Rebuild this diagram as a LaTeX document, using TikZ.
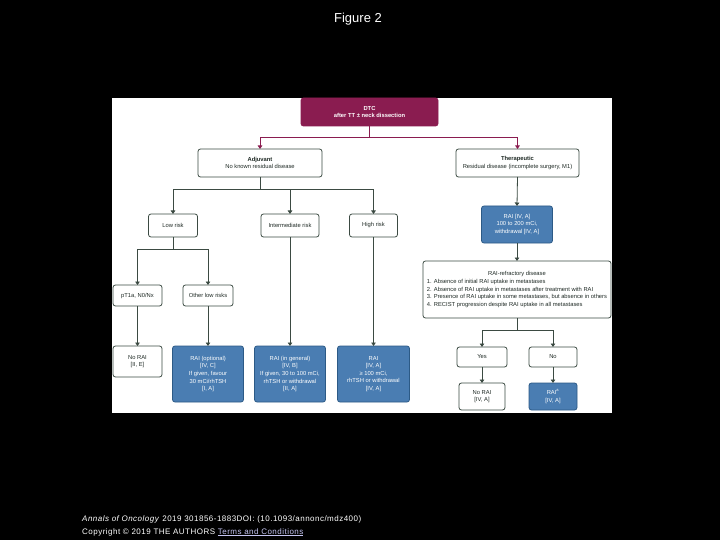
\documentclass[tikz,border=0pt]{standalone}
\usepackage{fontspec}
\setmainfont{Liberation Sans}
\newfontfamily\footf{Liberation Sans}[LetterSpace=6]
\usetikzlibrary{arrows.meta}
\definecolor{purp}{HTML}{8A1C50}
\definecolor{lineC}{HTML}{3B4A42}
\definecolor{textC}{HTML}{1F2A25}
\definecolor{blueF}{HTML}{4A7DB2}
\definecolor{blueD}{HTML}{2C5A86}
\definecolor{linkC}{HTML}{C4C4F2}
\tikzset{
  box/.style={draw=lineC, line width=0.8pt, rounded corners=2.5pt, fill=white,
    align=center, inner sep=1pt, outer sep=0pt, text=textC,
    font=\fontsize{5.8}{7.6}\selectfont},
  bbox/.style={box, fill=blueF, draw=blueD, text=white},
  pbox/.style={box, fill=purp, draw=purp, text=white},
  conn/.style={draw=lineC, line width=0.8pt, -{Triangle[length=3.5pt,width=4.5pt]}},
  plain/.style={draw=lineC, line width=0.8pt},
  pconn/.style={conn, draw=purp, color=purp},
  pplain/.style={plain, draw=purp},
  foot/.style={anchor=base west, inner sep=0pt, text=white, font=\footf\fontsize{8}{9}\selectfont},
}
\begin{document}
\begin{tikzpicture}[x=1pt,y=-1pt]
\fill[black] (0,0) rectangle (720,540);
\useasboundingbox (0,0) rectangle (720,540);
\fill[white] (112,98) rectangle (612,413);

\node[anchor=base, inner sep=0pt, text=white, font=\fontsize{13}{15}\selectfont] (title) at (358,22.5) {Figure 2};

% nodes
\node[pbox, minimum width=137pt, minimum height=28pt] (top) at (369.5,112) {\textbf{DTC}\\\textbf{after TT ± neck dissection}};
\node[box, minimum width=124pt, minimum height=28pt] (adj) at (260,163) {\textbf{Adjuvant}\\No known residual disease};
\node[box, minimum width=123pt, minimum height=28pt] (ther) at (517.5,163) {\textbf{Therapeutic}\\Residual disease (incomplete surgery, M1)};
\node[box, minimum width=49pt, minimum height=23pt] (low) at (173,225.5) {Low risk};
\node[box, minimum width=58pt, minimum height=23pt] (inter) at (290,225.5) {Intermediate risk};
\node[box, minimum width=48pt, minimum height=23pt] (high) at (373.5,225.5) {High risk};
\node[bbox, minimum width=71pt, minimum height=37pt] (raiT) at (517,224.5) {RAI [IV, A]\\100 to 200 mCi,\\withdrawal [IV, A]};
\node[box, minimum width=188pt, minimum height=57pt] (refr) at (517,289.5) {\begin{tabular}{@{}l@{}}\multicolumn{1}{c}{RAI-refractory disease}\\
1. Absence of initial RAI uptake in metastases\\
2. Absence of RAI uptake in metastases after treatment with RAI\\
3. Presence of RAI uptake in some metastases, but absence in others\\
4. RECIST progression despite RAI uptake in all metastases\end{tabular}};
\node[box, minimum width=49pt, minimum height=21pt] (pt1a) at (137.5,295.5) {pT1a, N0/Nx};
\node[box, minimum width=50pt, minimum height=21pt] (other) at (208,295.5) {Other low risks};
\node[box, minimum width=49pt, minimum height=31pt] (noraiL) at (137.5,361.5) {No RAI\\{[II, E]}};
\node[bbox, minimum width=71pt, minimum height=56pt] (raiopt) at (208,374) {RAI (optional)\\{[IV, C]}\\If given, favour\\30 mCi/rhTSH\\{[I, A]}};
\node[bbox, minimum width=71pt, minimum height=56pt] (raigen) at (290,374) {RAI (in general)\\{[IV, B]}\\If given, 30 to 100 mCi,\\rhTSH or withdrawal\\{[II, A]}};
\node[bbox, minimum width=72pt, minimum height=56pt] (raihigh) at (373.5,374) {RAI\\{[IV, A]}\\≥ 100 mCi,\\rhTSH or withdrawal\\{[IV, A]}};
\node[box, minimum width=50pt, minimum height=20pt] (yes) at (482,357) {Yes};
\node[box, minimum width=48pt, minimum height=20pt] (no) at (553,357) {No};
\node[box, minimum width=46pt, minimum height=27pt] (noraiR) at (482,396.5) {No RAI\\{[IV, A]}};
\node[bbox, minimum width=48pt, minimum height=27pt] (raia) at (553,396.5) {RAI\textsuperscript{a}\\{[IV, A]}};

% branch points
\coordinate (b0) at (369.5,137);
\coordinate (b1) at (260,189);
\coordinate (b2) at (173,249);
\coordinate (b3) at (517,330);

% connectors
\draw[pplain] (top.south) -- (b0);
\draw[pconn] (b0) -| (adj.north);
\draw[pconn] (b0) -| (ther.north);
\draw[plain] (adj.south) -- (b1);
\draw[conn] (b1) -| (low.north);
\draw[conn] (b1) -| (inter.north);
\draw[conn] (b1) -| (high.north);
\draw[plain] (low.south) -- (b2);
\draw[conn] (b2) -| (pt1a.north);
\draw[conn] (b2) -| (other.north);
\draw[conn] (pt1a.south) -- (noraiL.north);
\draw[conn] (other.south) -- (raiopt.north);
\draw[conn] (inter.south) -- (raigen.north);
\draw[conn] (high.south) -- (raihigh.north);
\draw[conn] (ther.south) -- (raiT.north);
\draw[conn] (raiT.south) -- (refr.north);
\draw[plain] (refr.south) -- (b3);
\draw[conn] (b3) -| (yes.north);
\draw[conn] (b3) -| (no.north);
\draw[conn] (yes.south) -- (noraiR.north);
\draw[conn] (no.south) -- (raia.north);

% footer
\node[foot] (foot1) at (82,521.5) {\textit{Annals of Oncology} 2019 301856-1883DOI: (10.1093/annonc/mdz400)};
\node[foot] (foot2) at (82,534) {Copyright © 2019 THE AUTHORS \textcolor{linkC}{\underline{Terms and Conditions}}};
\end{tikzpicture}
\end{document}
